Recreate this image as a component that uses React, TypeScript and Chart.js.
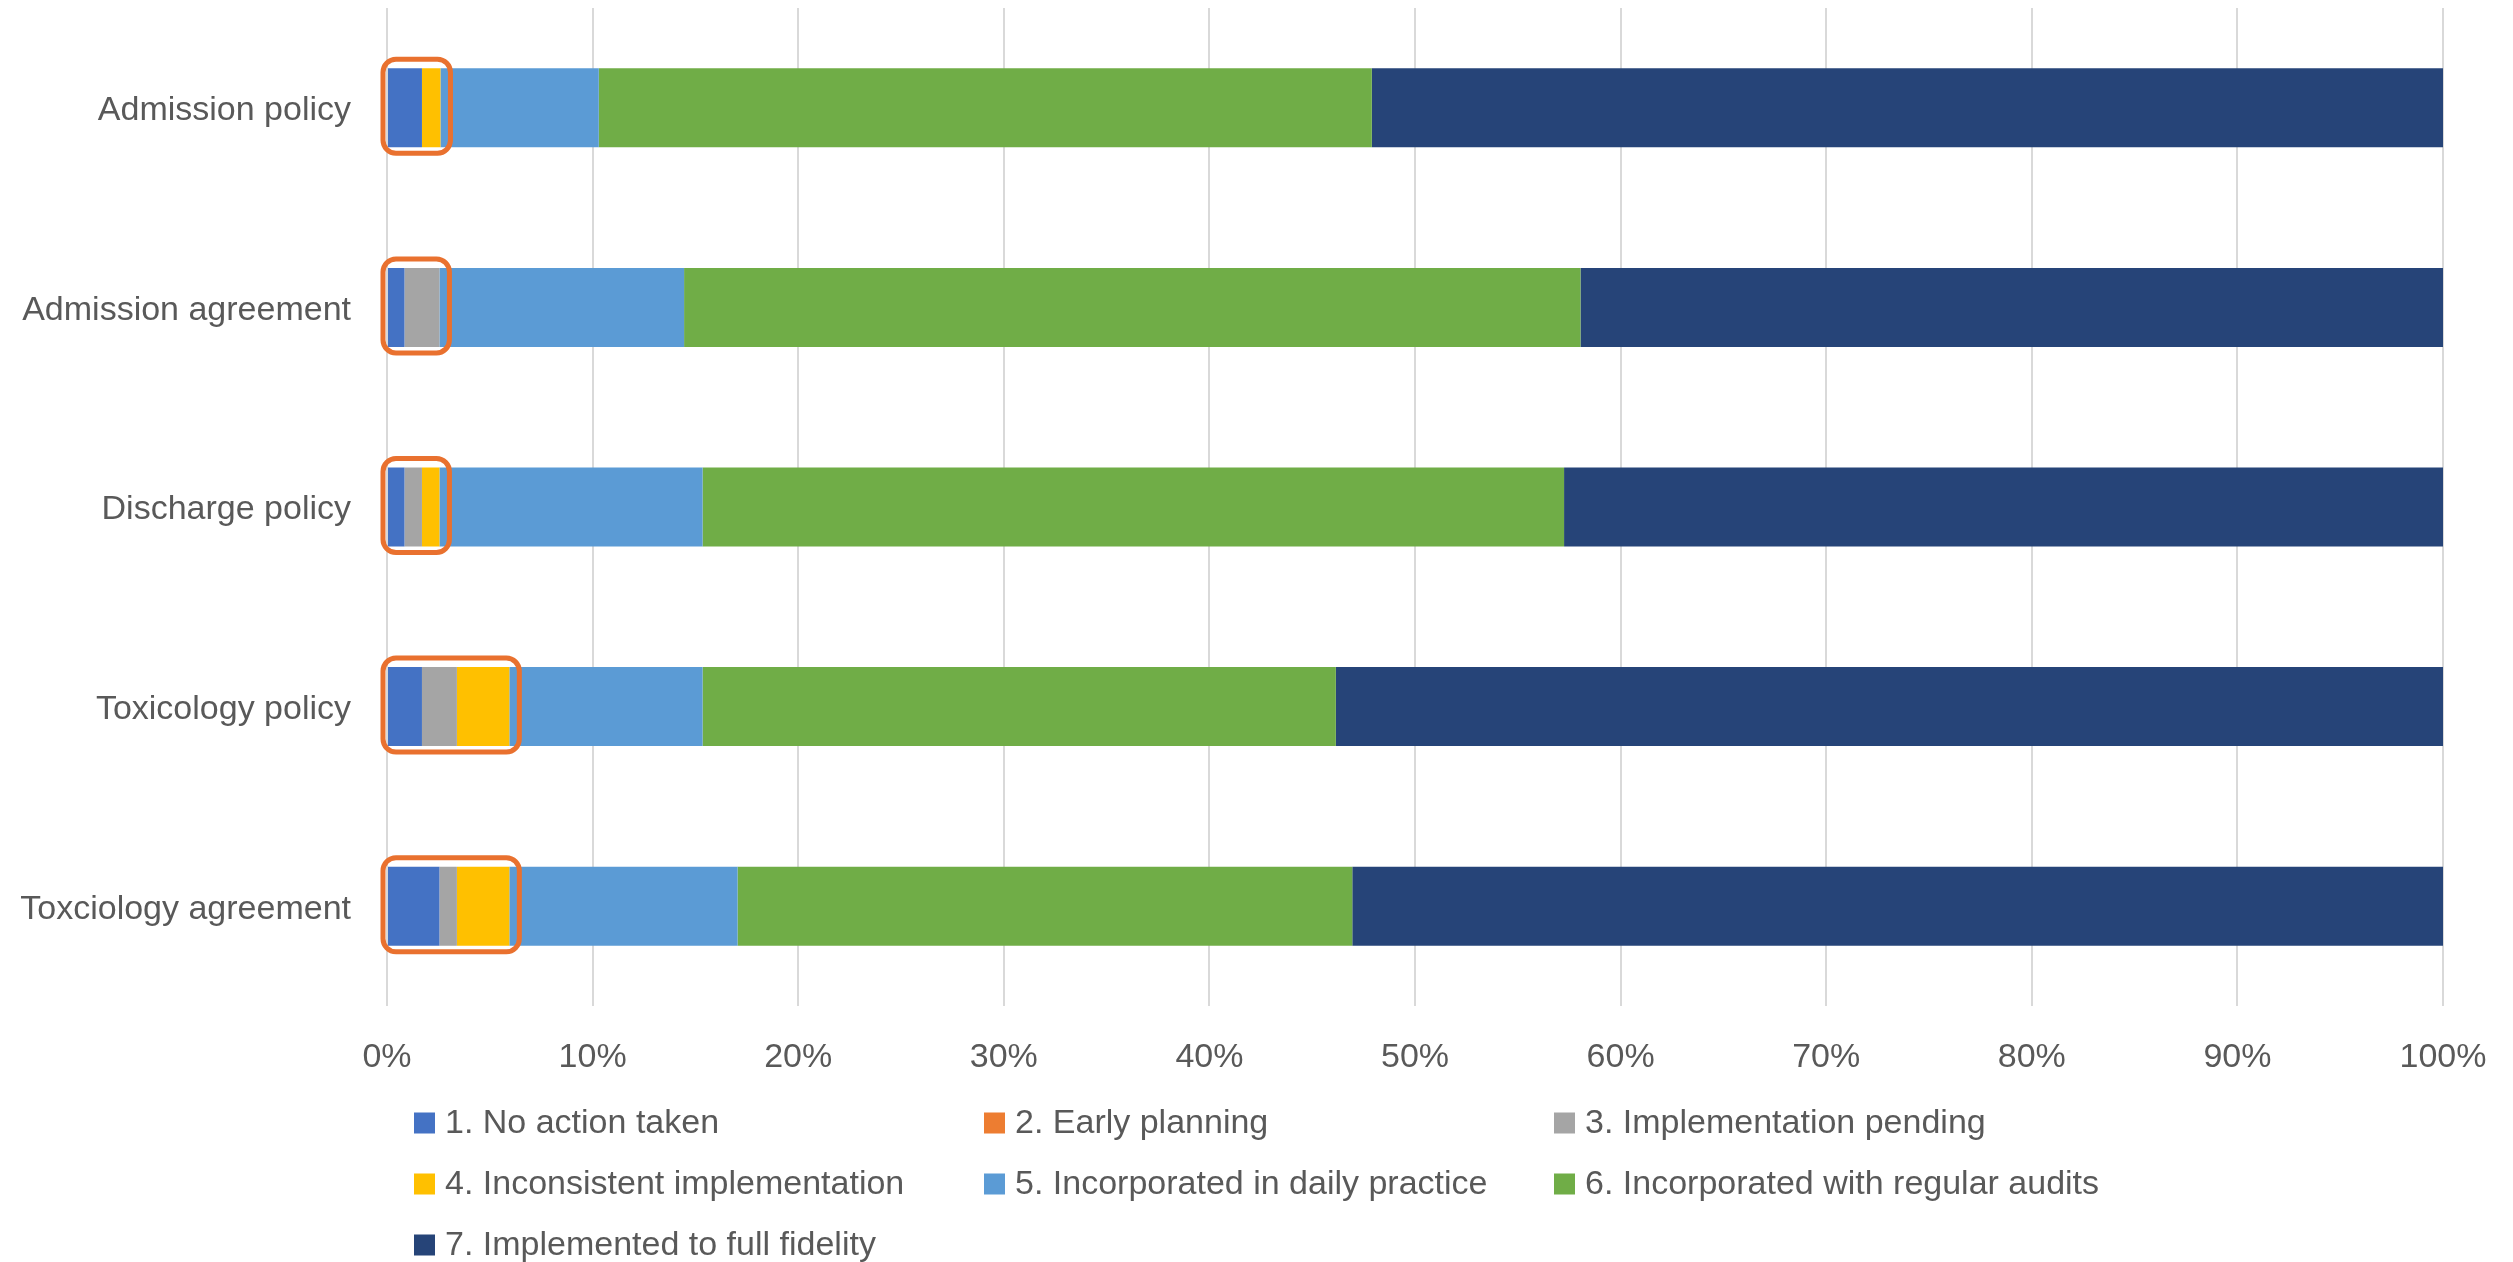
import React, { useEffect, useRef } from "react";
import { Chart, registerables } from "chart.js";

Chart.register(...registerables);

const categories = [
  "Admission policy",
  "Admission agreement",
  "Discharge policy",
  "Toxicology policy",
  "Toxciology agreement",
];

const seriesNames = [
  "1. No action taken",
  "2. Early planning",
  "3. Implementation pending",
  "4. Inconsistent implementation",
  "5. Incorporated in daily practice",
  "6. Incorporated with regular audits",
  "7. Implemented to full fidelity",
];

const seriesColors = ["#4472C4", "#ED7D31", "#A5A5A5", "#FFC000", "#5B9BD5", "#70AD47", "#264478"];

const noAction = [1.7, 0.85, 0.85, 1.7, 2.55];
const earlyPlanning = [0, 0, 0, 0, 0];
const implPending = [0, 1.7, 0.85, 1.7, 0.85];
const inconsistent = [0.9, 0, 0.85, 2.55, 2.55];
const dailyPractice = [7.7, 11.9, 12.8, 9.4, 11.1];
const regularAudits = [37.6, 43.6, 41.9, 30.8, 29.9];
const fullFidelity = [52.1, 41.95, 42.75, 53.85, 53.05];

const seriesValues = [noAction, earlyPlanning, implPending, inconsistent, dailyPractice, regularAudits, fullFidelity];

const xTicks = [0, 10, 20, 30, 40, 50, 60, 70, 80, 90, 100];

// number of leading series enclosed by the orange highlight box
const highlightedSeriesCount = 4;

const FONT = "'Liberation Sans', Arial, sans-serif";
const TEXT = "#595959";

export default function App() {
  const ref = useRef<HTMLCanvasElement | null>(null);

  useEffect(() => {
    if (!ref.current) return;

    const highlightPlugin = {
      id: "highlight",
      afterDatasetsDraw(chart: any) {
        const ctx = chart.ctx;
        const xs = chart.scales.x;
        const meta0 = chart.getDatasetMeta(0);
        ctx.save();
        ctx.strokeStyle = "#E9712F";
        ctx.lineWidth = 5;
        categories.forEach((_, i) => {
          const el = meta0.data[i];
          if (!el) return;
          let sum = 0;
          for (let s = 0; s < highlightedSeriesCount; s++) sum += seriesValues[s][i];
          const left = xs.getPixelForValue(0) - 4;
          const right = xs.getPixelForValue(sum) + 10;
          const top = el.y - el.height / 2 - 9;
          const bottom = el.y + el.height / 2 + 6;
          ctx.beginPath();
          ctx.roundRect(left, top, right - left, bottom - top, 13);
          ctx.stroke();
        });
        ctx.restore();
      },
    };

    const legendPlugin = {
      id: "customLegend",
      afterDraw(chart: any) {
        const ctx = chart.ctx;
        const area = chart.chartArea;
        ctx.save();
        ctx.font = `34px ${FONT}`;
        ctx.textBaseline = "middle";
        ctx.textAlign = "left";
        seriesNames.forEach((name, i) => {
          const col = i % 3;
          const row = Math.floor(i / 3);
          const bx = area.left + 27 + col * 570;
          const cy = area.bottom + 117 + row * 61;
          ctx.fillStyle = seriesColors[i];
          ctx.fillRect(bx, cy - 10.5, 21, 21);
          ctx.fillStyle = TEXT;
          ctx.fillText(name, bx + 31, cy + 1);
        });
        ctx.restore();
      },
    };

    const chart = new Chart(ref.current, {
      type: "bar",
      data: {
        labels: categories,
        datasets: seriesNames.map((name, s) => ({
          label: name,
          data: seriesValues[s],
          backgroundColor: seriesColors[s],
          borderWidth: 0,
          categoryPercentage: 1,
          barPercentage: 0.396,
        })),
      },
      options: {
        indexAxis: "y",
        responsive: false,
        animation: false,
        maintainAspectRatio: false,
        layout: { padding: { left: 0, top: 8, right: 70, bottom: 176 } },
        plugins: {
          legend: { display: false },
          tooltip: { enabled: false },
        },
        scales: {
          x: {
            stacked: true,
            min: 0,
            max: 100,
            afterBuildTicks: (scale: any) => {
              scale.ticks = xTicks.map((v) => ({ value: v }));
            },
            afterFit: (scale: any) => {
              scale.height = 80;
              scale.paddingLeft = 0;
              scale.paddingRight = 0;
            },
            grid: { color: "#D9D9D9", lineWidth: 2, drawTicks: false, tickLength: 0 },
            border: { display: false },
            ticks: {
              padding: 31,
              color: TEXT,
              font: { family: FONT, size: 34 },
              callback: (v: any) => `${v}%`,
              maxRotation: 0,
              autoSkip: false,
            },
          },
          y: {
            stacked: true,
            afterFit: (scale: any) => {
              scale.width = 387;
              scale.paddingTop = 0;
              scale.paddingBottom = 0;
            },
            grid: { display: false, drawTicks: false, tickLength: 0 },
            border: { display: false },
            ticks: {
              padding: 36,
              labelOffset: 3,
              color: TEXT,
              font: { family: FONT, size: 34 },
            },
          },
        },
      },
      plugins: [highlightPlugin, legendPlugin],
    });

    return () => chart.destroy();
  }, []);

  return (
    <div style={{ position: "fixed", left: 0, top: 0, width: 2513, height: 1262, background: "#fff" }}>
      <canvas ref={ref} width={2513} height={1262} style={{ width: 2513, height: 1262, display: "block" }} />
    </div>
  );
}
